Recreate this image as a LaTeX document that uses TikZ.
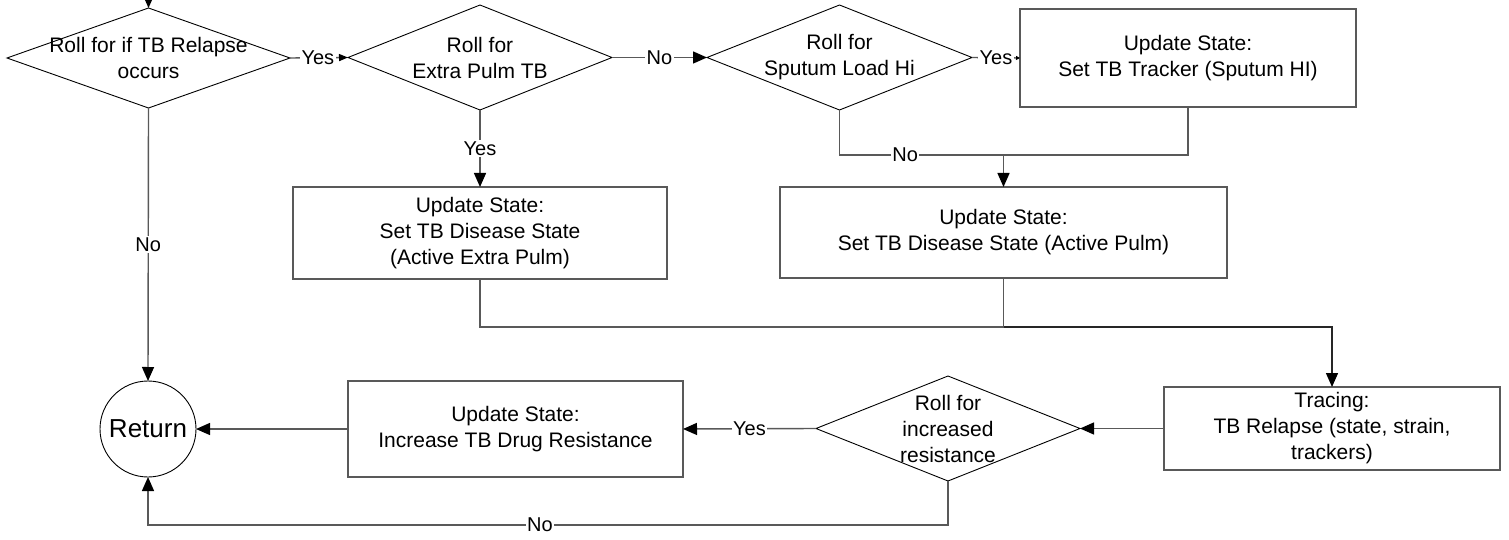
\documentclass[tikz,border=0pt]{standalone}
\usepackage{fontspec}
\setmainfont{Liberation Sans}
\usetikzlibrary{arrows.meta}
\pgfdeclarelayer{background}
\pgfsetlayers{background,main}
\begin{document}
\begin{tikzpicture}[x=1pt,y=-1pt,
  txt/.style={font=\fontsize{21}{26}\selectfont, align=center, inner sep=0pt, outer sep=0pt},
  dbox/.style={txt, draw=none},
  dline/.style={draw=black, line width=0.9pt},
  pbox/.style={txt, draw=black!65, line width=1.3pt},
  conn/.style={draw=black!65, line width=1.4pt},
  arr/.style={conn, -{Triangle[length=14pt,width=12pt,color=black]}},
  sarr/.style={conn, -{Triangle[length=9pt,width=7pt,color=black]}},
  tarr/.style={conn, -{Triangle[length=4pt,width=4pt,color=black]}},
  lbl/.style={font=\fontsize{20}{24}\selectfont, fill=white, inner sep=1.5pt}]
\useasboundingbox (0,0) rectangle (1509,540);

% decision nodes (text holders)
\node[dbox, minimum width=283pt, minimum height=100pt] (d1) at (148.5,58) {Roll for if TB Relapse\\occurs};
\node[dbox, minimum width=264pt, minimum height=105pt] (d2) at (480,57.5) {Roll for\\Extra Pulm TB};
\node[dbox, minimum width=265pt, minimum height=105pt] (d3) at (839.5,57.5) {Roll for\\Sputum Load Hi};
\node[dbox, minimum width=264pt, minimum height=105pt] (d4) at (948,428.5) {Roll for\\increased\\resistance};

\begin{pgfonlayer}{background}
\foreach \d in {d1,d2,d3,d4}
  \draw[dline] (\d.north) -- (\d.east) -- (\d.south) -- (\d.west) -- cycle;
\end{pgfonlayer}

% process boxes
\node[pbox, minimum width=336pt, minimum height=98pt] (b1) at (1188,58) {Update State:\\Set TB Tracker (Sputum HI)};
\node[pbox, minimum width=447pt, minimum height=91pt] (b2) at (1003.5,232.5) {Update State:\\Set TB Disease State (Active Pulm)};
\node[pbox, minimum width=374pt, minimum height=92pt] (b3) at (480,233) {Update State:\\Set TB Disease State\\(Active Extra Pulm)};
\node[pbox, minimum width=336pt, minimum height=83pt] (bt) at (1332,428.5) {Tracing:\\TB Relapse (state, strain,\\trackers)};
\node[pbox, minimum width=335pt, minimum height=96pt] (b4) at (515.5,429) {Update State:\\Increase TB Drug Resistance};
\node[circle, draw=black, line width=0.9pt, minimum size=96pt, inner sep=0pt, outer sep=0pt,
      font=\fontsize{26}{30}\selectfont] (ret) at (148,429) {Return};

% helper coordinates
\coordinate (top) at (148.5,-10);
\coordinate (j1) at (1003.5,155);
\coordinate (j2) at (1003.5,327);
\coordinate (j3) at (148,525);

% connectors
\draw[arr] (top) -- (d1.north);
\draw[sarr] (d1.east) -- node[lbl, pos=0.48] {Yes} (d2.west);
\draw[arr] (d2.east) -- node[lbl] {No} (d3.west);
\draw[tarr] (d3.east) -- node[lbl, pos=0.5] {Yes} (b1.west);
\draw[arr] (d2.south) -- node[lbl] {Yes} (b3.north);
\draw[conn] (d3.south) |- node[lbl, pos=0.7] {No} (j1);
\draw[conn] (b1.south) |- (j1);
\draw[arr] (j1) -- (b2.north);
\draw[conn] (b3.south) |- (j2);
\draw[conn] (b2.south) -- (j2);
\draw[arr, draw=black!85] (j2) -| (bt.north);
\draw[arr] (bt.west) -- (d4.east);
\draw[arr] (d4.west) -- node[lbl] {Yes} (b4.east);
\draw[arr] (b4.west) -- (ret.east);
\draw[arr] (d1.south) -- node[lbl] {No} (ret.north);
\draw[arr] (d4.south) |- node[lbl, pos=0.755] {No} (j3) -- (ret.south);
\end{tikzpicture}
\end{document}
